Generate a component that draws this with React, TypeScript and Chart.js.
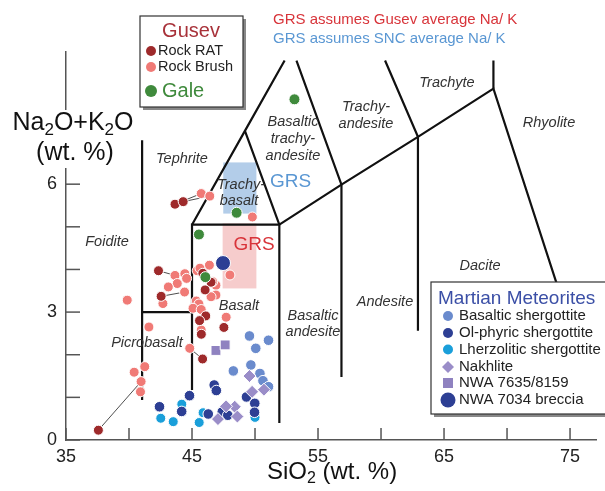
import React, { useEffect, useRef } from 'react';
import { Chart, registerables } from 'chart.js';
Chart.register(...registerables);

type P = [number, number];

const FONT = '"Liberation Sans", Arial, Helvetica, sans-serif';

// Axis ranges & ticks
const X_MIN = 35;
const X_MAX = 77.1;
const Y_MIN = 0;
const Y_MAX = 9.1;
const X_TICK_MARKS = [35, 40, 45, 50, 55, 60, 65, 70, 75];
const X_TICK_LABELS = [35, 45, 55, 65, 75];
const Y_TICK_MARKS = [0, 1, 2, 3, 4, 5, 6];
const Y_TICK_LABELS = [0, 3, 6];

// TAS field boundaries (SiO2, Na2O+K2O)
const LINE_FOIDITE: P[] = [[41.04, 0.94], [41.04, 7.03]];
const LINE_PICRO_TOP: P[] = [[41.04, 3.0], [45.0, 3.0]];
const LINE_BASALT_LEFT: P[] = [[45.0, 1.17], [45.0, 5.05], [51.93, 5.05]];
const LINE_TEPHRITE_EDGE: P[] = [[45.0, 5.05], [49.2, 7.25], [52.35, 8.9]];
const LINE_TRACHYBASALT_R: P[] = [[49.2, 7.25], [51.93, 5.05], [51.93, 0.4]];
const LINE_UPPER_SERIES: P[] = [[51.93, 5.05], [56.86, 5.99], [62.93, 7.11], [68.92, 8.24], [73.85, 3.75], [77.1, 0.9]];
const LINE_BTA_TA: P[] = [[53.29, 8.9], [56.86, 5.99], [56.86, 1.48]];
const LINE_TA_TRACHYTE: P[] = [[60.32, 8.9], [62.93, 7.11], [62.93, 2.56]];
const LINE_TRACHYTE_RHY: P[] = [[68.92, 8.9], [68.92, 8.24]];

// GRS boxes
const GRS_SNC_SIO2: P = [47.48, 50.11];
const GRS_SNC_ALK: P = [5.31, 6.51];
const GRS_GUSEV_SIO2: P = [47.43, 50.11];
const GRS_GUSEV_ALK: P = [3.555, 5.08];

// Gusev rocks
const ROCK_RAT: P[] = [
  [37.57, 0.23], [43.65, 5.53], [44.3, 5.59], [42.34, 3.97], [42.55, 3.37],
  [45.86, 3.91], [46.51, 3.7], [46.04, 3.52], [46.09, 2.91], [45.6, 2.8],
  [45.74, 2.48], [47.53, 2.64], [45.84, 1.9],
];
const ROCK_BRUSH: P[] = [
  [45.73, 5.78], [46.41, 5.72], [49.79, 5.23],
  [39.86, 3.28], [43.65, 3.86], [44.43, 3.9], [44.57, 3.79], [43.83, 3.67],
  [43.12, 3.59], [44.41, 3.47], [42.69, 3.2], [41.58, 2.65],
  [46.38, 4.1], [45.41, 3.97], [45.63, 4.03], [46.9, 3.63], [46.9, 3.4],
  [46.51, 3.36], [45.34, 3.26], [45.55, 3.19], [45.08, 3.09], [45.73, 3.06],
  [45.73, 2.58], [47.71, 2.88], [48.01, 3.87], [44.82, 2.15], [46.64, 3.71],
  [41.25, 1.72], [40.41, 1.59], [40.96, 1.37], [40.91, 1.13],
];
const GALE: P[] = [[53.13, 7.99], [48.54, 5.33], [45.55, 4.82], [46.06, 3.82]];

// RAT - Brush tie lines
const TIE_1: P[] = [[37.57, 0.23], [40.96, 1.37]];
const TIE_2: P[] = [[43.65, 5.53], [45.73, 5.78]];
const TIE_3: P[] = [[44.3, 5.59], [46.41, 5.72]];
const TIE_4: P[] = [[42.34, 3.97], [43.65, 3.86]];
const TIE_5: P[] = [[42.55, 3.37], [44.41, 3.47]];
const TIE_6: P[] = [[44.82, 2.15], [45.84, 1.9]];

// Martian meteorites
const BASALTIC_SHERGOTTITE: P[] = [
  [49.56, 2.44], [51.07, 2.34], [50.06, 2.15], [48.28, 1.62],
  [49.67, 1.76], [50.39, 1.56], [50.63, 1.39], [51.07, 1.25],
];
const OL_PHYRIC_SHERGOTTITE: P[] = [
  [42.42, 0.78], [44.18, 0.67], [44.8, 1.04], [46.76, 1.29], [46.93, 1.16],
  [46.29, 0.61], [47.4, 0.66], [47.84, 0.58], [49.32, 1.01], [49.98, 0.86], [49.96, 0.65],
];
const LHERZOLITIC_SHERGOTTITE: P[] = [
  [42.52, 0.51], [43.51, 0.43], [44.19, 0.84], [45.57, 0.41], [45.88, 0.64], [50.0, 0.53],
];
const NAKHLITE: P[] = [
  [49.56, 1.5], [49.77, 1.13], [50.71, 1.18], [48.39, 0.78], [47.7, 0.79], [48.6, 0.55], [47.06, 0.49],
];
const NWA_7635_8159: P[] = [[46.9, 2.1], [47.63, 2.23]];
const NWA_7034: P[] = [[47.46, 4.15]];

const C_RAT = '#9e2a2b';
const C_BRUSH = '#f07a76';
const C_GALE = '#3f8a3c';
const C_BAS = '#6a8bcd';
const C_OL = '#2d3f94';
const C_LHZ = '#1a9fda';
const C_NAK = '#9a8dc8';
const C_SQ = '#8f82c0';
const AXIS = '#555';

const toXY = (arr: P[]) => arr.map(([x, y]) => ({ x, y }));

const lineDs = (data: P[], width = 2.2, color = '#111', order = 20) => ({
  type: 'scatter' as const,
  data: toXY(data),
  showLine: true,
  borderColor: color,
  borderWidth: width,
  pointRadius: 0,
  pointHoverRadius: 0,
  fill: false,
  order,
});

const ptDs = (data: P[], color: string, radius: number, style: string, order: number) => ({
  type: 'scatter' as const,
  data: toXY(data),
  backgroundColor: color,
  borderColor: '#ffffff',
  borderWidth: 1,
  pointRadius: radius,
  pointStyle: style,
  order,
});

function drawRich(ctx: CanvasRenderingContext2D, parts: [string, boolean][], cx: number, cy: number, size: number, color: string, align: 'center' | 'left' = 'center') {
  const sub = Math.round(size * 0.66);
  let total = 0;
  for (const [t, s] of parts) {
    ctx.font = `${s ? sub : size}px ${FONT}`;
    total += ctx.measureText(t).width;
  }
  let x = align === 'center' ? cx - total / 2 : cx;
  ctx.fillStyle = color;
  ctx.textAlign = 'left';
  ctx.textBaseline = 'middle';
  for (const [t, s] of parts) {
    ctx.font = `${s ? sub : size}px ${FONT}`;
    ctx.fillText(t, x, s ? cy + size * 0.28 : cy);
    x += ctx.measureText(t).width;
  }
}

function text(ctx: CanvasRenderingContext2D, t: string, x: number, y: number, font: string, color: string, align: CanvasTextAlign = 'center') {
  ctx.font = font;
  ctx.fillStyle = color;
  ctx.textAlign = align;
  ctx.textBaseline = 'middle';
  ctx.fillText(t, x, y);
}

function marker(ctx: CanvasRenderingContext2D, style: string, x: number, y: number, r: number, color: string) {
  ctx.fillStyle = color;
  ctx.beginPath();
  if (style === 'circle') ctx.arc(x, y, r, 0, Math.PI * 2);
  else if (style === 'diamond') { ctx.moveTo(x, y - r); ctx.lineTo(x + r, y); ctx.lineTo(x, y + r); ctx.lineTo(x - r, y); ctx.closePath(); }
  else if (style === 'square') ctx.rect(x - r, y - r, 2 * r, 2 * r);
  ctx.fill();
}

const decorPlugin = {
  id: 'decor',
  beforeDatasetsDraw(chart: any) {
    const { ctx, scales } = chart;
    const xs = scales.x, ys = scales.y;
    const box = (sx: P, sy: P, color: string) => {
      const x0 = xs.getPixelForValue(sx[0]), x1 = xs.getPixelForValue(sx[1]);
      const y0 = ys.getPixelForValue(sy[1]), y1 = ys.getPixelForValue(sy[0]);
      ctx.fillStyle = color;
      ctx.fillRect(x0, y0, x1 - x0, y1 - y0);
    };
    ctx.save();
    box(GRS_SNC_SIO2, GRS_SNC_ALK, '#b3cde9');
    box(GRS_GUSEV_SIO2, GRS_GUSEV_ALK, '#f6cccc');
    ctx.restore();
  },
  afterDraw(chart: any) {
    const { ctx, scales } = chart;
    const xs = scales.x, ys = scales.y;
    ctx.save();
    // tick marks (inward)
    ctx.strokeStyle = AXIS;
    ctx.lineWidth = 1.5;
    const bottom = ys.getPixelForValue(0);
    const left = xs.getPixelForValue(X_MIN);
    for (const v of X_TICK_MARKS) {
      const px = xs.getPixelForValue(v);
      ctx.beginPath(); ctx.moveTo(px, bottom); ctx.lineTo(px, bottom - 12); ctx.stroke();
    }
    for (const v of Y_TICK_MARKS) {
      const py = ys.getPixelForValue(v);
      ctx.beginPath(); ctx.moveTo(left, py); ctx.lineTo(left + 14, py); ctx.stroke();
    }
    // y title with gap in axis
    ctx.fillStyle = '#fff';
    ctx.fillRect(left - 4, 110, 8, 58);
    drawRich(ctx, [['Na', false], ['2', true], ['O+K', false], ['2', true], ['O', false]], 73, 123, 25, '#111');
    drawRich(ctx, [['(wt. %)', false]], 75, 153, 25, '#111');
    // x title
    drawRich(ctx, [['SiO', false], ['2', true], [' (wt. %)', false]], 332, 472, 24, '#111');

    // field labels
    const it = `italic 14.5px ${FONT}`;
    const lc = '#333';
    text(ctx, 'Tephrite', 182, 159, it, lc);
    text(ctx, 'Foidite', 107, 242, it, lc);
    text(ctx, 'Trachy-', 241, 185, it, lc);
    text(ctx, 'basalt', 239, 201, it, lc);
    text(ctx, 'Basaltic', 293, 122, it, lc);
    text(ctx, 'trachy-', 293, 139, it, lc);
    text(ctx, 'andesite', 293, 156, it, lc);
    text(ctx, 'Trachy-', 366, 107, it, lc);
    text(ctx, 'andesite', 366, 124, it, lc);
    text(ctx, 'Trachyte', 447, 83, it, lc);
    text(ctx, 'Rhyolite', 549, 123, it, lc);
    text(ctx, 'Basalt', 239, 306, it, lc);
    text(ctx, 'Picrobasalt', 147, 343, it, lc);
    text(ctx, 'Basaltic', 313, 316, it, lc);
    text(ctx, 'andesite', 313, 332, it, lc);
    text(ctx, 'Andesite', 385, 302, it, lc);
    text(ctx, 'Dacite', 480, 266, it, lc);
    text(ctx, 'GRS', 270, 182, `19px ${FONT}`, '#5a97d3', 'left');
    text(ctx, 'GRS', 254, 245, `19px ${FONT}`, '#d8343a');

    // top notes
    text(ctx, 'GRS assumes Gusev average Na/ K', 273, 20, `15px ${FONT}`, '#d8343a', 'left');
    text(ctx, 'GRS assumes SNC average Na/ K', 273, 39, `15px ${FONT}`, '#5a97d3', 'left');

    // Gusev legend
    ctx.fillStyle = '#888';
    ctx.fillRect(143, 19, 103, 91);
    ctx.fillStyle = '#fff';
    ctx.fillRect(140, 16, 103, 91);
    ctx.strokeStyle = '#333';
    ctx.lineWidth = 1.2;
    ctx.strokeRect(140, 16, 103, 91);
    text(ctx, 'Gusev', 191, 31, `20px ${FONT}`, '#a8323a');
    marker(ctx, 'circle', 151, 51, 5, C_RAT);
    text(ctx, 'Rock RAT', 158, 51, `14.5px ${FONT}`, '#222', 'left');
    marker(ctx, 'circle', 151, 67, 5, C_BRUSH);
    text(ctx, 'Rock Brush', 158, 67, `14.5px ${FONT}`, '#222', 'left');
    marker(ctx, 'circle', 151, 91, 6, C_GALE);
    text(ctx, 'Gale', 162, 91, `20px ${FONT}`, C_GALE, 'left');

    // Martian meteorites legend
    ctx.fillStyle = '#888';
    ctx.fillRect(434, 285, 180, 132);
    ctx.fillStyle = '#fff';
    ctx.fillRect(431, 282, 180, 132);
    ctx.strokeStyle = '#333';
    ctx.strokeRect(431, 282, 180, 132);
    text(ctx, 'Martian Meteorites', 438, 299, `19px ${FONT}`, '#3b4fa6', 'left');
    const items: [string, string, number, string, number][] = [
      ['Basaltic shergottite', 'circle', 5, C_BAS, 316],
      ['Ol-phyric shergottite', 'circle', 5, C_OL, 333],
      ['Lherzolitic shergottite', 'circle', 5, C_LHZ, 349.5],
      ['Nakhlite', 'diamond', 6, C_NAK, 367],
      ['NWA 7635/8159', 'square', 5, C_SQ, 383],
      ['NWA 7034 breccia', 'circle', 7.5, C_OL, 400],
    ];
    for (const [label, st, r, col, y] of items) {
      marker(ctx, st, 448, y, r, col);
      text(ctx, label, 459, y, `15px ${FONT}`, '#222', 'left');
    }
    ctx.restore();
  },
};

export default function App() {
  const ref = useRef<HTMLCanvasElement | null>(null);
  useEffect(() => {
    if (!ref.current) return;
    const chart = new Chart(ref.current, {
      type: 'scatter',
      data: {
        datasets: [
          ptDs(NWA_7034, C_OL, 7.5, 'circle', 0),
          ptDs(GALE, C_GALE, 5.5, 'circle', 1),
          ptDs(ROCK_RAT, C_RAT, 5, 'circle', 2),
          ptDs(ROCK_BRUSH, C_BRUSH, 5, 'circle', 3),
          ptDs(NAKHLITE, C_NAK, 6.5, 'rectRot', 4),
          ptDs(NWA_7635_8159, C_SQ, 7, 'rect', 4),
          ptDs(OL_PHYRIC_SHERGOTTITE, C_OL, 5.3, 'circle', 5),
          ptDs(LHERZOLITIC_SHERGOTTITE, C_LHZ, 5, 'circle', 6),
          ptDs(BASALTIC_SHERGOTTITE, C_BAS, 5.3, 'circle', 7),
          lineDs(TIE_1, 0.8, '#222', 10),
          lineDs(TIE_2, 0.8, '#222', 10),
          lineDs(TIE_3, 0.8, '#222', 10),
          lineDs(TIE_4, 0.8, '#222', 10),
          lineDs(TIE_5, 0.8, '#222', 10),
          lineDs(TIE_6, 0.8, '#222', 10),
          lineDs(LINE_FOIDITE),
          lineDs(LINE_PICRO_TOP),
          lineDs(LINE_BASALT_LEFT),
          lineDs(LINE_TEPHRITE_EDGE),
          lineDs(LINE_TRACHYBASALT_R),
          lineDs(LINE_UPPER_SERIES),
          lineDs(LINE_BTA_TA),
          lineDs(LINE_TA_TRACHYTE),
          lineDs(LINE_TRACHYTE_RHY),
        ] as any,
      },
      options: {
        animation: false,
        responsive: false,
        events: [],
        layout: { padding: { top: 52, left: 0, right: 0, bottom: 0 } },
        plugins: { legend: { display: false }, tooltip: { enabled: false } },
        scales: {
          x: {
            type: 'linear',
            min: X_MIN,
            max: X_MAX,
            afterBuildTicks: (s: any) => { s.ticks = X_TICK_MARKS.map((v) => ({ value: v })); },
            afterFit: (s: any) => { s.height = 51; },
            grid: { display: false, drawTicks: false },
            border: { display: true, color: AXIS, width: 1.5 },
            ticks: {
              autoSkip: false,
              maxRotation: 0,
              padding: 6,
              color: '#222',
              font: { family: FONT, size: 18 },
              callback: (v: any) => (X_TICK_LABELS.includes(Number(v)) ? String(v) : ''),
            },
          },
          y: {
            type: 'linear',
            min: Y_MIN,
            max: Y_MAX,
            afterBuildTicks: (s: any) => { s.ticks = Y_TICK_MARKS.map((v) => ({ value: v })); },
            afterFit: (s: any) => { s.width = 66; },
            grid: { display: false, drawTicks: false },
            border: { display: true, color: AXIS, width: 1.5 },
            ticks: {
              autoSkip: false,
              padding: 9,
              color: '#222',
              font: { family: FONT, size: 18 },
              callback: (v: any) => (Y_TICK_LABELS.includes(Number(v)) ? String(v) : ''),
            },
          },
        },
      } as any,
      plugins: [decorPlugin],
    });
    return () => chart.destroy();
  }, []);
  return (
    <div style={{ position: 'fixed', left: 0, top: 0, width: 605, height: 491, background: '#fff' }}>
      <canvas ref={ref} width={605} height={491} style={{ display: 'block', width: 605, height: 491 }} />
    </div>
  );
}
